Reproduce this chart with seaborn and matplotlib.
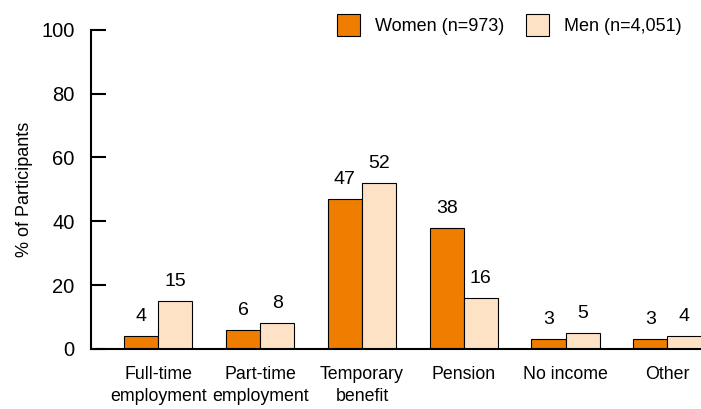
import pandas as pd
import matplotlib
matplotlib.use("Agg")
import matplotlib.pyplot as plt
import seaborn as sns
from matplotlib.patches import Patch

categories = ["Full-time\nemployment", "Part-time\nemployment", "Temporary\nbenefit",
              "Pension", "No income", "Other"]
women = [4, 6, 47, 38, 3, 3]
men = [15, 8, 52, 16, 5, 4]
groups = ["Women (n=973)", "Men (n=4,051)"]
colors = ["#EE7D00", "#FDE2C6"]

df = pd.DataFrame({
    "category": categories * 2,
    "value": women + men,
    "group": [groups[0]] * len(categories) + [groups[1]] * len(categories),
})

sns.set_style("ticks")
plt.rcParams["font.family"] = ["Liberation Sans", "DejaVu Sans"]
plt.rcParams["text.color"] = "black"
plt.rcParams["xtick.color"] = "black"
plt.rcParams["ytick.color"] = "black"
plt.rcParams["axes.labelcolor"] = "black"
plt.rcParams["axes.edgecolor"] = "black"

fig = plt.figure(figsize=(7.01, 4.09), dpi=100)
ax = fig.add_axes([0.13, 0.147, 0.87, 0.78])

sns.barplot(data=df, x="category", y="value", hue="group", palette=colors,
            saturation=1, width=0.67, edgecolor="black", linewidth=0.8, ax=ax,
            legend=False)

for cont in ax.containers:
    ax.bar_label(cont, padding=8, fontsize=14)

ax.set_ylim(0, 100)
ax.set_xlim(-0.66, 5.33)
ax.set_yticks([0, 20, 40, 60, 80, 100])
ax.tick_params(axis="y", direction="in", length=11, width=1.5, labelsize=14.5, pad=12)
ax.tick_params(axis="x", length=0, labelsize=12.8, pad=12)
for lbl in ax.get_xticklabels():
    lbl.set_linespacing(1.4)
ax.set_xlabel("")
ax.set_ylabel("% of Participants", fontsize=13, labelpad=6)
for s in ["top", "right"]:
    ax.spines[s].set_visible(False)
ax.spines["left"].set_linewidth(1.5)
ax.spines["bottom"].set_linewidth(1.5)

handles = [Patch(facecolor=c, edgecolor="black", linewidth=0.8) for c in colors]
fig.legend(handles, groups, loc="upper right", bbox_to_anchor=(0.995, 1.005), ncol=2,
           frameon=False, fontsize=13, handlelength=1.3, handleheight=1.5,
           columnspacing=1.2, handletextpad=0.8)

fig.savefig("out.png", dpi=100)
